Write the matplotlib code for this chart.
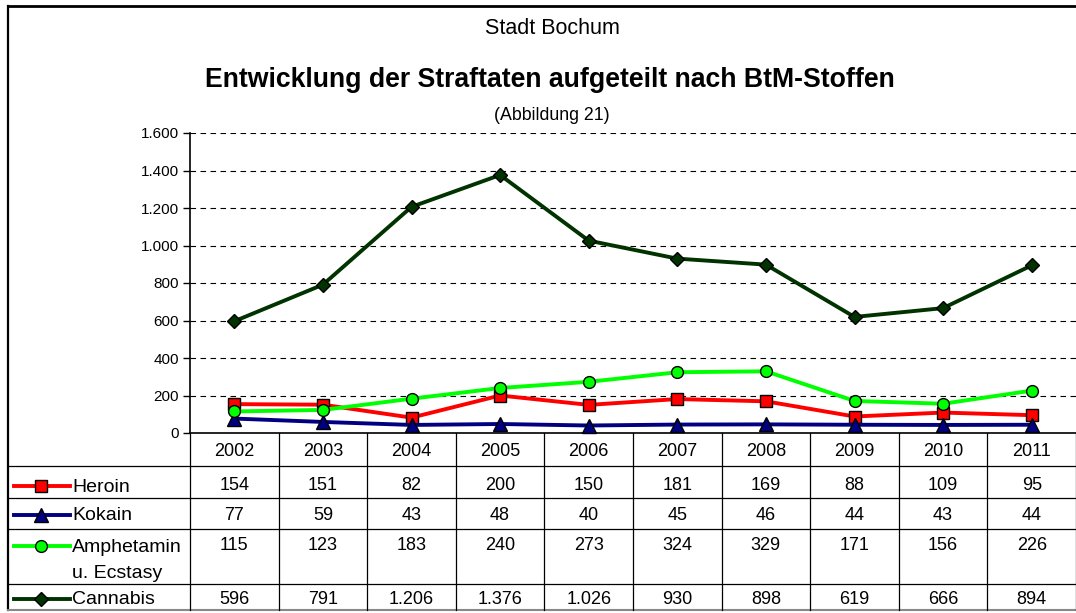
import matplotlib.pyplot as plt
import numpy as np

plt.rcParams['font.family'] = ['Liberation Sans', 'DejaVu Sans']

years = ['2002', '2003', '2004', '2005', '2006', '2007', '2008', '2009', '2010', '2011']
heroin = [154, 151, 82, 200, 150, 181, 169, 88, 109, 95]
kokain = [77, 59, 43, 48, 40, 45, 46, 44, 43, 44]
amphetamin = [115, 123, 183, 240, 273, 324, 329, 171, 156, 226]
cannabis = [596, 791, 1206, 1376, 1026, 930, 898, 619, 666, 894]

names = ['Heroin', 'Kokain', 'Amphetamin\nu. Ecstasy', 'Cannabis']
series = [heroin, kokain, amphetamin, cannabis]
styles = [
    dict(color='#ff0000', marker='s', mfc='#ff0000', ms=8),
    dict(color='#000080', marker='^', mfc='#000080', ms=9.5),
    dict(color='#00ff00', marker='o', mfc='#00ff00', ms=8.5),
    dict(color='#003300', marker='D', mfc='#003300', ms=7.5),
]

W, H = 1076, 613
fig = plt.figure(figsize=(W / 100, H / 100), dpi=100)

# Diagrammfläche
x0, x1, ytop, ybot = 190, 1076, 133, 433
ax = fig.add_axes([x0 / W, 1 - ybot / H, (x1 - x0) / W, (ybot - ytop) / H])
x = np.arange(len(years))
for vals, st in zip(series, styles):
    ax.plot(x, vals, lw=2.8, mec='black', mew=1, clip_on=False, zorder=3, **st)

ax.set_xlim(-0.5, len(years) - 0.5)
ax.set_ylim(0, 1600)
ax.set_yticks(range(0, 1601, 200))
ax.set_yticklabels([f"{v:,.0f}".replace(",", ".") for v in range(0, 1601, 200)], fontsize=11)
ax.set_xticks([])
ax.grid(axis='y', color='black', ls=(0, (5, 4)), lw=0.8)
for s in ['top', 'right']:
    ax.spines[s].set_visible(False)
ax.spines['left'].set_linewidth(1.2)
ax.spines['bottom'].set_linewidth(1.2)
ax.tick_params(axis='y', length=5, width=1, pad=3)

# Überlagerung für Titel, Rahmen und Datentabelle (Pixelkoordinaten)
ov = fig.add_axes([0, 0, 1, 1], zorder=-1)
ov.set_xlim(0, W)
ov.set_ylim(H, 0)
ov.axis('off')

ov.text(552, 28, 'Stadt Bochum', ha='center', va='center', fontsize=15.5)
ov.text(550, 80, 'Entwicklung der Straftaten aufgeteilt nach BtM-Stoffen',
        ha='center', va='center', fontsize=19.2, fontweight='bold')
ov.text(552, 115, '(Abbildung 21)', ha='center', va='center', fontsize=12.8)

# Rahmen
ov.plot([8, 8], [6, 610], color='black', lw=1.6)
ov.plot([8, W], [6, 6], color='black', lw=2)

# Tabelle
col_w = (x1 - x0) / len(years)
row_lines = [466, 498, 529, 584]
ov.plot([8, W], [610, 610], color='#888888', lw=1.5)
for yl in row_lines:
    ov.plot([8, W], [yl, yl], color='black', lw=0.9)
for i in range(len(years) + 1):
    xl = x0 + i * col_w
    ov.plot([xl, xl], [ybot, 610], color='black', lw=0.9)

for i, yr in enumerate(years):
    ov.text(x0 + (i + 0.5) * col_w, 451, yr, ha='center', va='center', fontsize=13)

row_y = [486, 515, 546, 599]
for name, vals, st, ry in zip(names, series, styles, row_y):
    ov.plot([14, 70], [ry, ry], color=st['color'], lw=2.8)
    ov.plot([41], [ry], ls='none', marker=st['marker'], mfc=st['mfc'],
            ms=st['ms'], mec='black', mew=1)
    for k, line in enumerate(name.split('\n')):
        ov.text(72, ry + 1 + k * 27, line, ha='left', va='center', fontsize=14)
    for i, v in enumerate(vals):
        ov.text(x0 + (i + 0.5) * col_w, ry, f"{v:,.0f}".replace(",", "."),
                ha='center', va='center', fontsize=13)

fig.savefig('out.png', dpi=100)
